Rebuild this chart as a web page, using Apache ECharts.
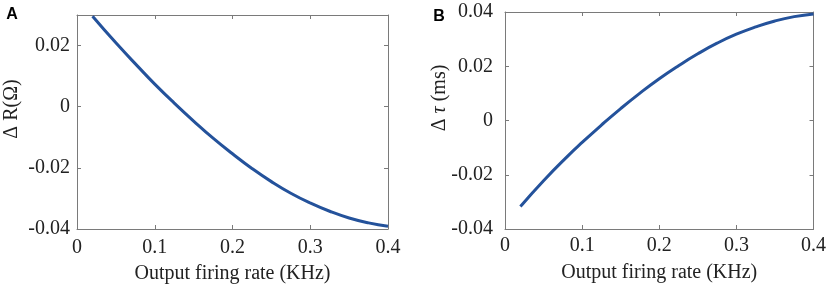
<!DOCTYPE html>
<html>
<head>
<meta charset="utf-8">
<script src="https://cdn.jsdelivr.net/npm/echarts@6/dist/echarts.min.js"></script>
<style>
  html, body { margin: 0; padding: 0; background: #fff; }
  #chart { width: 829px; height: 289px; }
</style>
</head>
<body>
<div id="chart"></div>
<script>
// firing rate (KHz)
const rate = [0.02, 0.05, 0.08, 0.1, 0.125, 0.15, 0.175, 0.2, 0.225, 0.25, 0.275, 0.3, 0.325, 0.35, 0.375, 0.4];
// panel A: delta R
const deltaR = [0.0296, 0.0209, 0.0127, 0.0074, 0.0012, -0.0047, -0.0103, -0.0154, -0.0202, -0.0245, -0.0283, -0.0315, -0.0342, -0.0364, -0.0380, -0.0391];
// panel B: delta tau
const deltaTau = [-0.0317, -0.0222, -0.0135, -0.0081, -0.0017, 0.0044, 0.0101, 0.0154, 0.0202, 0.0246, 0.0285, 0.0318, 0.0345, 0.0367, 0.0383, 0.0393];

const xTicks = [0, 0.1, 0.2, 0.3, 0.4];
const yTicksA = [-0.04, -0.02, 0, 0.02];
const yTicksB = [-0.04, -0.02, 0, 0.02, 0.04];

const serif = 'Liberation Serif';
const axisColor = '#7a7a7a';
const textColor = '#222';
const lineColor = '#24529b';

function xAxis(grid, ticks, showLabel, pos, margin, gap) {
  return {
    type: 'value', gridIndex: grid, position: pos, min: 0, max: 0.4,
    name: showLabel ? 'Output firing rate (KHz)' : '',
    nameLocation: 'middle', nameGap: gap,
    nameTextStyle: { fontFamily: serif, fontSize: 20, color: textColor },
    axisLine: { show: true, onZero: false, lineStyle: { color: axisColor, width: 1 } },
    axisTick: { show: true, inside: true, length: 4, customValues: ticks, lineStyle: { color: axisColor } },
    axisLabel: { show: showLabel, customValues: ticks, margin: margin, fontFamily: serif, fontSize: 20, color: textColor },
    splitLine: { show: false }
  };
}

function yAxis(grid, min, max, ticks, showLabel, pos, margin) {
  return {
    type: 'value', gridIndex: grid, position: pos, min: min, max: max,
    axisLine: { show: true, onZero: false, lineStyle: { color: axisColor, width: 1 } },
    axisTick: { show: true, inside: true, length: 4, customValues: ticks, lineStyle: { color: axisColor } },
    axisLabel: { show: showLabel, customValues: ticks, margin: margin, fontFamily: serif, fontSize: 20, color: textColor },
    splitLine: { show: false }
  };
}

const chart = echarts.init(document.getElementById('chart'));
chart.setOption({
  animation: false,
  grid: [
    { left: 77, top: 15, width: 311, height: 217 },
    { left: 505, top: 12, width: 311, height: 217 }
  ],
  xAxis: [
    xAxis(0, xTicks, true, 'bottom', 9, 35),
    xAxis(0, xTicks, false, 'top', 0, 0),
    xAxis(1, xTicks, true, 'bottom', 7, 34),
    xAxis(1, xTicks, false, 'top', 0, 0)
  ],
  yAxis: [
    yAxis(0, -0.04, 0.03, yTicksA, true, 'left', 7),
    yAxis(0, -0.04, 0.03, yTicksA, false, 'right', 0),
    yAxis(1, -0.04, 0.04, yTicksB, true, 'left', 12),
    yAxis(1, -0.04, 0.04, yTicksB, false, 'right', 0)
  ],
  series: [
    {
      type: 'line', xAxisIndex: 0, yAxisIndex: 0,
      data: rate.map((x, i) => [x, deltaR[i]]),
      smooth: true, showSymbol: false, symbol: 'none',
      lineStyle: { color: lineColor, width: 3 }
    },
    {
      type: 'line', xAxisIndex: 2, yAxisIndex: 2,
      data: rate.map((x, i) => [x, deltaTau[i]]),
      smooth: true, showSymbol: false, symbol: 'none',
      lineStyle: { color: lineColor, width: 3 }
    }
  ],
  graphic: [
    { type: 'text', x: 12, y: 15, style: { text: 'A', font: 'bold 16px "Liberation Sans"', fill: '#000', align: 'center', verticalAlign: 'middle' } },
    { type: 'text', x: 439, y: 17, style: { text: 'B', font: 'bold 16px "Liberation Sans"', fill: '#000', align: 'center', verticalAlign: 'middle' } },
    {
      type: 'text', x: 12, y: 109, rotation: Math.PI / 2,
      style: { text: 'Δ R(Ω)', font: '20px "Liberation Serif"', fill: textColor, align: 'center', verticalAlign: 'middle' }
    },
    {
      type: 'text', x: 440, y: 98, rotation: Math.PI / 2,
      style: {
        text: '{n|Δ }{i|τ}{n| (ms)}', align: 'center', verticalAlign: 'middle',
        rich: {
          n: { font: '20px "Liberation Serif"', fill: textColor },
          i: { font: 'italic 20px "Liberation Serif"', fill: textColor }
        }
      }
    }
  ]
});
</script>
</body>
</html>
